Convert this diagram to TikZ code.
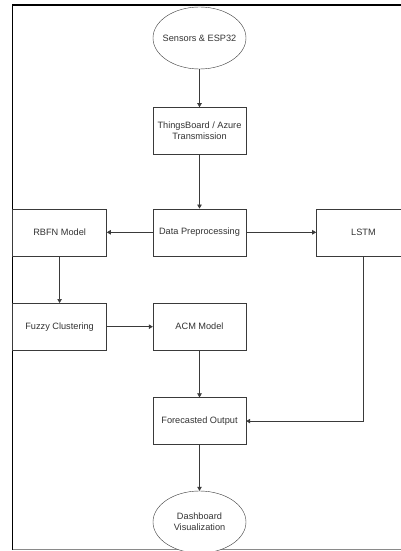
\documentclass[tikz,border=0pt]{standalone}
\usepackage{fontspec}
\setmainfont{Liberation Sans}
\usepackage{xcolor}
\definecolor{FlowText}{HTML}{333333}
\definecolor{FlowLine}{HTML}{3A3A3A}
\definecolor{FrameGray}{HTML}{8A8A8A}
\usetikzlibrary{positioning,shapes.geometric,arrows.meta}

\begin{document}
\begin{tikzpicture}[
        x=1pt, y=1pt,
        node distance=46pt and 46pt,
        terminal/.style={
            ellipse, draw=FlowLine, fill=white,
            minimum width=93pt, minimum height=62pt,
            inner xsep=-6pt, inner ysep=0pt,
            align=center, text=FlowText,
            font=\fontsize{9.2}{11}\selectfont
        },
        process/.style={
            rectangle, draw=FlowLine, fill=white,
            minimum width=93pt, minimum height=47pt,
            align=center, text=FlowText,
            font=\fontsize{9.2}{11}\selectfont
        },
        arrow/.style={-{Triangle[length=4pt, width=4.5pt]}, draw=FlowLine, line width=0.6pt}
    ]
        \useasboundingbox (0,0) rectangle (400,-551);

        % frame of the screenshot
        \draw[line width=1.4pt] (410,-5) -- (12.5,-5) -- (12.5,-549.5);
        \draw[FrameGray, line width=0.9pt] (12.5,-549.5) -- (410,-549.5);

        \node[terminal] (sensors) at (199.5,-38) {Sensors \& ESP32};
        \node[process, below=38pt of sensors] (cloud) {ThingsBoard / Azure\\Transmission};
        \node[process, below=54pt of cloud] (prep) {Data Preprocessing};
        \node[process, left=46pt of prep, minimum width=94pt] (rbfn) {RBFN Model};
        \node[process, right=70pt of prep, minimum width=94pt] (lstm) {LSTM};
        \node[process, below=47pt of rbfn, minimum width=94pt] (fuzzy) {Fuzzy Clustering};
        \node[process, below=47pt of prep] (acm) {ACM Model};
        \node[process, below=47pt of acm] (forecast) {Forecasted Output};
        \node[terminal, below=46pt of forecast] (dashboard) {Dashboard\\Visualization};

        \draw[arrow] (sensors) -- (cloud);
        \draw[arrow] (cloud) -- (prep);
        \draw[arrow] (prep) -- (rbfn);
        \draw[arrow] (prep) -- (lstm);
        \draw[arrow] (rbfn) -- (fuzzy);
        \draw[arrow] (fuzzy) -- (acm);
        \draw[arrow] (acm) -- (forecast);
        \draw[arrow] (lstm.south) |- (forecast.east);
        \draw[arrow] (forecast) -- (dashboard);
    \end{tikzpicture}
\end{document}
